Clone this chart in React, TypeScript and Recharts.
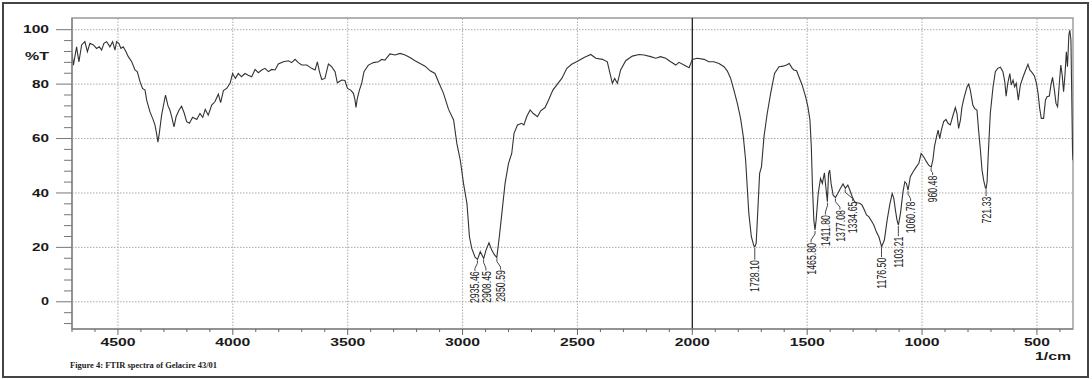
import React from 'react';
import { ComposedChart, Line, XAxis, YAxis, ReferenceLine, ReferenceArea } from 'recharts';

// ---- Spectrum (wavenumber in 1/cm, %T) ----
const wavenumbers = [
  4700, 4694, 4680, 4670, 4658, 4644, 4633, 4622, 4607, 4593, 4581, 4571, 4561, 4549, 4535, 4523, 4513, 4506,
  4496, 4487, 4477, 4465, 4455, 4440, 4426, 4416, 4404, 4393, 4382, 4375, 4361, 4349, 4339, 4332, 4326, 4320,
  4310, 4293, 4282, 4274, 4266, 4256, 4247, 4234, 4223, 4211, 4201, 4189, 4175, 4157, 4143, 4131, 4120, 4107,
  4092, 4078, 4063, 4053, 4041, 4027, 4012, 4001, 3989, 3976, 3962, 3947, 3933, 3918, 3903, 3889, 3874, 3860,
  3845, 3831, 3816, 3802, 3780, 3758, 3744, 3729, 3715, 3700, 3678, 3657, 3642, 3632, 3623, 3613, 3599, 3584,
  3570, 3555, 3545, 3526, 3512, 3501, 3487, 3475, 3468, 3464, 3458, 3449, 3439, 3429, 3410, 3388, 3366, 3352,
  3338, 3316, 3294, 3272, 3250, 3229, 3207, 3185, 3163, 3141, 3120, 3105, 3083, 3061, 3039, 3025, 3010, 2996,
  2981, 2970, 2960, 2945, 2935, 2923, 2908, 2898, 2885, 2873, 2861, 2851, 2840, 2829, 2815, 2800, 2786, 2776,
  2761, 2743, 2733, 2721, 2706, 2692, 2674, 2660, 2641, 2626, 2607, 2590, 2568, 2546, 2525, 2500, 2471, 2442,
  2420, 2391, 2370, 2358, 2348, 2338, 2326, 2312, 2290, 2261, 2232, 2210, 2181, 2159, 2138, 2116, 2094, 2072,
  2058, 2036, 2014, 2000, 1978, 1949, 1928, 1906, 1884, 1862, 1848, 1833, 1819, 1804, 1790, 1778, 1768, 1761,
  1754, 1743, 1732, 1728, 1722, 1717, 1707, 1699, 1688, 1674, 1659, 1642, 1623, 1604, 1590, 1578, 1565, 1558,
  1546, 1536, 1522, 1507, 1497, 1488, 1482, 1477, 1471, 1466, 1461, 1452, 1442, 1434, 1425, 1419, 1412, 1407,
  1402, 1396, 1387, 1377, 1367, 1355, 1344, 1334, 1323, 1314, 1304, 1294, 1283, 1271, 1261, 1251, 1242, 1232,
  1222, 1210, 1199, 1188, 1180, 1176, 1164, 1152, 1141, 1130, 1123, 1116, 1109, 1103, 1094, 1083, 1075, 1068,
  1061, 1051, 1039, 1025, 1014, 1004, 993, 981, 971, 960, 953, 946, 937, 930, 923, 916, 906, 896,
  887, 877, 867, 855, 848, 841, 833, 826, 816, 804, 797, 790, 779, 771, 761, 754, 746, 739,
  732, 724, 721, 717, 713, 703, 691, 681, 671, 659, 648, 640, 634, 627, 618, 612, 604, 597,
  590, 581, 572, 560, 549, 539, 531, 521, 511, 502, 495, 488, 481, 471, 463, 456, 446, 439,
  432, 424, 417, 410, 402, 396, 390, 384, 378, 372, 367, 361, 357, 352, 349, 345, 343,
];
const transmittance = [
  91.3, 87.0, 93.7, 88.2, 94.4, 95.6, 91.9, 95.0, 94.4, 93.1, 93.7, 92.5, 95.0, 95.6, 93.7, 95.6, 92.5, 95.6,
  95.0, 93.1, 93.7, 91.9, 90.1, 88.2, 85.2, 84.6, 80.9, 78.4, 77.8, 74.1, 69.9, 67.4, 65.0, 61.9, 58.7, 61.9,
  68.6, 76.0, 72.0, 70.5, 68.0, 64.3, 68.0, 70.5, 71.9, 69.2, 66.2, 65.6, 67.8, 67.0, 69.2, 67.8, 70.7, 68.6,
  72.3, 73.5, 76.3, 73.2, 77.6, 78.4, 80.3, 83.9, 82.1, 83.9, 82.7, 83.9, 83.3, 82.7, 85.4, 84.2, 85.2, 85.8,
  84.6, 85.4, 85.2, 87.4, 88.2, 88.6, 87.9, 89.1, 87.9, 87.0, 87.0, 85.8, 85.2, 88.2, 84.6, 81.7, 82.1, 87.4,
  86.4, 84.6, 80.5, 81.5, 81.3, 78.4, 77.8, 76.6, 74.1, 71.4, 74.8, 77.8, 80.3, 84.6, 87.0, 87.9, 88.2, 89.1,
  88.8, 91.1, 90.7, 91.3, 90.7, 89.8, 88.6, 87.6, 86.6, 84.9, 83.9, 80.9, 76.6, 70.7, 66.8, 58.2, 52.1, 43.5,
  36.2, 23.9, 19.6, 16.3, 15.6, 18.4, 15.9, 19.0, 21.7, 19.0, 17.2, 16.3, 23.9, 32.5, 43.5, 50.9, 54.5, 61.9,
  65.0, 65.6, 65.0, 68.0, 70.5, 69.2, 68.0, 70.2, 71.4, 74.1, 77.8, 79.7, 82.1, 85.8, 87.3, 88.4, 89.8, 90.9,
  89.5, 89.1, 88.2, 83.9, 80.3, 82.1, 80.3, 85.2, 88.6, 90.3, 90.9, 90.7, 90.1, 89.5, 90.1, 89.5, 88.2, 87.0,
  88.0, 87.0, 86.0, 89.1, 89.5, 89.1, 88.2, 88.2, 87.6, 86.4, 84.9, 82.1, 77.8, 72.9, 67.4, 60.7, 52.1, 42.3,
  32.5, 23.9, 20.5, 20.2, 21.5, 30.0, 47.2, 49.6, 60.7, 69.2, 76.6, 83.9, 86.4, 86.6, 87.0, 87.6, 85.8, 85.2,
  84.9, 82.7, 79.7, 75.4, 71.7, 66.8, 57.0, 42.3, 30.0, 26.4, 30.0, 39.8, 45.3, 43.5, 47.4, 42.3, 36.8, 47.2,
  48.4, 43.5, 39.2, 38.3, 39.8, 41.7, 43.3, 41.7, 42.9, 41.0, 38.6, 36.8, 36.4, 36.2, 35.5, 33.7, 31.9, 31.3,
  30.0, 28.2, 25.7, 23.9, 21.5, 20.2, 22.7, 30.0, 35.5, 39.8, 38.0, 33.7, 30.0, 28.2, 32.5, 40.4, 44.1, 43.5,
  41.0, 46.0, 47.8, 49.6, 50.9, 54.5, 53.3, 51.5, 50.2, 49.5, 52.1, 57.0, 60.7, 63.1, 60.0, 63.1, 66.2, 67.0,
  65.6, 65.0, 68.0, 71.4, 69.2, 63.7, 66.8, 71.7, 75.4, 79.0, 80.0, 77.8, 72.3, 71.0, 70.5, 63.1, 55.8, 48.4,
  44.7, 41.8, 41.7, 44.0, 52.1, 69.2, 79.0, 84.6, 85.8, 86.2, 84.6, 80.9, 75.6, 80.3, 83.9, 79.7, 81.5, 79.0,
  80.3, 74.1, 79.7, 82.7, 85.2, 87.3, 85.2, 84.2, 83.0, 80.3, 76.6, 71.1, 67.4, 67.4, 74.1, 75.4, 75.6, 79.7,
  82.5, 77.8, 72.9, 71.7, 80.9, 87.0, 83.3, 77.2, 83.3, 91.9, 86.4, 98.0, 99.9, 96.2, 79.0, 55.1, 52.0,
];

// ---- Peak labels ----
const peakWavenumbers = [2935.46, 2908.45, 2850.59, 1728.1, 1465.8, 1411.8, 1377.08, 1334.65, 1176.5, 1103.21, 1060.78, 960.48, 721.33];
const peakTransmittance = [15.6, 15.9, 16.3, 20.2, 26.4, 36.8, 38.3, 41.7, 20.2, 28.2, 41.0, 49.5, 41.7];
const peakLabels = ['2935.46', '2908.45', '2850.59', '1728.10', '1465.80', '1411.80', '1377.08', '1334.65', '1176.50', '1103.21', '1060.78', '960.48', '721.33'];

// ---- Axis ticks ----
const xMajorTicks = [4500, 4000, 3500, 3000, 2500, 2000, 1500, 1000, 500];
const xAllTicks = [4700, 4600, 4500, 4400, 4300, 4200, 4100, 4000, 3900, 3800, 3700, 3600, 3500, 3400, 3300, 3200, 3100, 3000, 2900, 2800, 2700, 2600, 2500, 2400, 2300, 2200, 2100, 2000, 1900, 1800, 1700, 1600, 1500, 1400, 1300, 1200, 1100, 1000, 900, 800, 700, 600, 500, 400];
const yMajorTicks = [100, 80, 60, 40, 20, 0];
const yAllTicks = [100, 96, 92, 88, 84, 80, 76, 72, 68, 64, 60, 56, 52, 48, 44, 40, 36, 32, 28, 24, 20, 16, 12, 8, 4, 0, -4, -8];

// layout offsets of each peak label text relative to its peak point (px)
const peakLabelOffsets: [number, number][] = [
  [-2.5, 12], [2.3, 12.5], [3.7, 12.6], [0, 13.3], [-4, 13], [-2, 13.4], [4.5, 12.5], [7.5, 13.2], [0, 10.8], [0, 11.5], [2.5, 11.3], [1.5, 8.5], [0, 8.2],
];

const spectrum = wavenumbers.map((wn, i) => ({ wn, t: transmittance[i] }));
const peaks = peakWavenumbers.map((wn, i) => ({ wn, t: peakTransmittance[i], label: peakLabels[i] }));

const FONT = 'Liberation Sans, Arial, Helvetica, sans-serif';

const XTick = (props: any) => {
  const { x, y, payload } = props;
  const v = payload.value;
  const major = xMajorTicks.includes(v);
  const s = String(v);
  return (
    <g>
      <line x1={x} y1={y} x2={x} y2={y + (major ? 6 : 3)} stroke="#666" strokeWidth={1} />
      {major && (
        <text x={x} y={y + 17} textAnchor="middle" fontSize={10} fontWeight="bold" fontFamily={FONT} fill="#1a1a1a"
          textLength={s.length * 9 - 1} lengthAdjust="spacingAndGlyphs">{s}</text>
      )}
    </g>
  );
};

const YTick = (props: any) => {
  const { x, y, payload } = props;
  const v = payload.value;
  const major = yMajorTicks.includes(v);
  const s = String(v);
  return (
    <g>
      <line x1={x - (major ? 16 : 8)} y1={y} x2={x} y2={y} stroke="#777" strokeWidth={1} />
      {major && (
        <text x={x - 23} y={y + 3.6} textAnchor="end" fontSize={10} fontWeight="bold" fontFamily={FONT} fill="#1a1a1a"
          textLength={s.length * 9 - 1} lengthAdjust="spacingAndGlyphs">{s}</text>
      )}
    </g>
  );
};

const PeakDot = (props: any) => {
  const { cx, cy, index, payload } = props;
  if (cx == null || cy == null) return <g key={`p${index}`} />;
  const [dx, dy] = peakLabelOffsets[index] || [0, 10];
  const tx = cx + dx;
  const ty = cy + dy;
  return (
    <g key={`p${index}`}>
      <polyline points={`${cx},${cy + 1} ${cx},${cy + 4} ${tx},${ty - 3} ${tx},${ty - 0.5}`} fill="none" stroke="#333" strokeWidth={0.9} />
      <g transform={`translate(${tx},${ty}) scale(1.4,1) rotate(-90)`}>
        <text x={0} y={0} textAnchor="end" dominantBaseline="central" fontSize={8.8} fontFamily={FONT} fill="#222">{payload.label}</text>
      </g>
    </g>
  );
};

export default function App() {
  return (
    <div style={{ position: 'absolute', left: 0, top: 0, width: 1092, height: 379, background: '#fff' }}>
      <ComposedChart width={1092} height={379} data={spectrum} margin={{ top: 18, right: 19, bottom: 0, left: 0 }}>
        <XAxis dataKey="wn" type="number" domain={[343, 4700]} reversed allowDataOverflow ticks={xAllTicks} interval={0}
          tick={XTick} tickLine={false} tickSize={0} tickMargin={0} height={50} axisLine={{ stroke: '#888', strokeWidth: 1.5 }} />
        <YAxis type="number" domain={[-10, 104.3]} allowDataOverflow ticks={yAllTicks} interval={0}
          tick={YTick} tickLine={false} tickSize={0} tickMargin={0} width={72} axisLine={{ stroke: '#888', strokeWidth: 1.5 }} />
        {xMajorTicks.filter((v) => v !== 2000).map((v) => (
          <ReferenceLine key={`gx${v}`} x={v} stroke="#aaa" strokeWidth={1} strokeDasharray="1.5 1.5" />
        ))}
        {yMajorTicks.map((v) => (
          <ReferenceLine key={`gy${v}`} y={v} stroke="#aaa" strokeWidth={1} strokeDasharray="1.5 1.5" />
        ))}
        <ReferenceLine x={2000} stroke="#222" strokeWidth={1.3} />
        <ReferenceArea x1={343} x2={4700} y1={-10} y2={104.3} fill="none" stroke="#999" strokeWidth={1.4} ifOverflow="visible" />
        <Line dataKey="t" type="linear" stroke="#333" strokeWidth={1.1} dot={false} activeDot={false} isAnimationActive={false} />
        <Line data={peaks} dataKey="t" type="linear" stroke="none" dot={PeakDot} activeDot={false} isAnimationActive={false} legendType="none" />
      </ComposedChart>
      <svg width={1092} height={379} style={{ position: 'absolute', left: 0, top: 0, pointerEvents: 'none' }}>
        <rect x={3} y={3} width={1085} height={374} fill="none" stroke="#444" strokeWidth={2} />
        <text x={49} y={60} textAnchor="end" fontSize={10} fontWeight="bold" fontFamily={FONT} fill="#1a1a1a" textLength={24} lengthAdjust="spacingAndGlyphs">%T</text>
        <text x={1071} y={359.5} textAnchor="end" fontSize={10} fontWeight="bold" fontFamily={FONT} fill="#1a1a1a" textLength={36} lengthAdjust="spacingAndGlyphs">1/cm</text>
        <text x={70} y={368} fontSize={7.5} fontWeight="bold" fontFamily="Liberation Serif, Times New Roman, serif" fill="#222" textLength={147} lengthAdjust="spacingAndGlyphs">Figure 4: FTIR spectra of Gelacire 43/01</text>
      </svg>
    </div>
  );
}
